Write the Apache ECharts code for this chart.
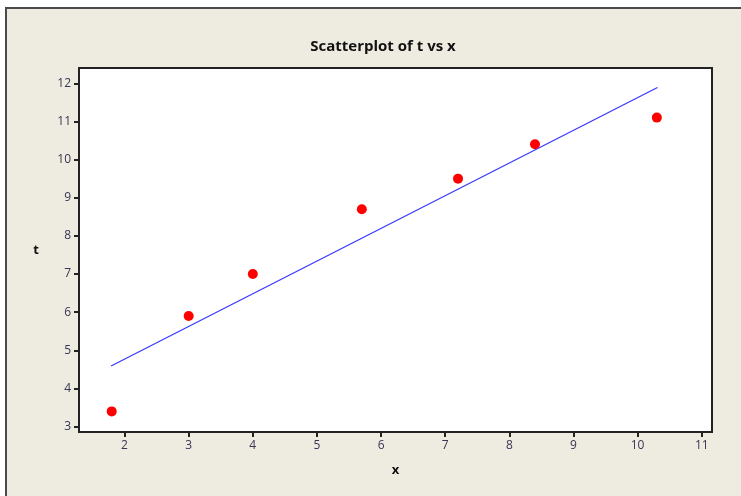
<!DOCTYPE html>
<html>
<head>
<meta charset="utf-8">
<script src="https://cdn.jsdelivr.net/npm/echarts@6/dist/echarts.min.js"></script>
<style>
  html, body { margin: 0; padding: 0; background: #ffffff; }
  #chart { width: 741px; height: 496px; }
</style>
</head>
<body>
<div id="chart"></div>
<script>
const xValues = [1.8, 3, 4, 5.7, 7.2, 8.4, 10.3];
const tValues = [3.4, 5.9, 7.0, 8.7, 9.5, 10.4, 11.1];
// fitted line
const fitX = [1.79, 10.31];
const fitT = [4.59, 11.89];
const xTicks = [2, 3, 4, 5, 6, 7, 8, 9, 10, 11];
const tTicks = [3, 4, 5, 6, 7, 8, 9, 10, 11, 12];

const chart = echarts.init(document.getElementById("chart"));
const labelFont = { fontFamily: "Open Sans", fontSize: 12, color: "#3a3550" };

chart.setOption({
  animation: false,
  backgroundColor: "#ffffff",
  graphic: [
    {
      type: "rect",
      shape: { x: 6, y: 8, width: 800, height: 600 },
      style: { fill: "#eeebe1", stroke: "#4a4a4a", lineWidth: 2 },
      z: -10,
    },
  ],
  title: {
    text: "Scatterplot of t vs x",
    left: 378,
    top: 34,
    textAlign: "center",
    textStyle: { fontFamily: "Open Sans", fontSize: 15, fontWeight: "bold", color: "#111" },
  },
  grid: {
    left: 79,
    top: 68,
    right: 29,
    bottom: 64,
    show: true,
    backgroundColor: "#ffffff",
    borderColor: "#222",
    borderWidth: 2,
  },
  xAxis: {
    type: "value",
    min: 1.29,
    max: 11.16,
    name: "x",
    nameLocation: "middle",
    nameGap: 32,
    nameTextStyle: { fontFamily: "Open Sans", fontSize: 13, fontWeight: "bold", color: "#111" },
    axisLine: { show: false },
    axisTick: { show: true, length: 5, lineStyle: { color: "#222", width: 2 }, customValues: xTicks },
    axisLabel: { ...labelFont, margin: 8, customValues: xTicks },
    splitLine: { show: false },
  },
  yAxis: {
    type: "value",
    min: 2.86,
    max: 12.4,
    name: "t",
    nameLocation: "middle",
    nameGap: 40,
    nameRotate: 0,
    nameTextStyle: { fontFamily: "Open Sans", fontSize: 13, fontWeight: "bold", color: "#111" },
    axisLine: { show: false },
    axisTick: { show: true, length: 5, lineStyle: { color: "#222", width: 2 }, customValues: tTicks },
    axisLabel: { ...labelFont, margin: 8, customValues: tTicks },
    splitLine: { show: false },
  },
  series: [
    {
      name: "fit",
      type: "line",
      data: fitX.map((x, i) => [x, fitT[i]]),
      showSymbol: false,
      lineStyle: { color: "#3a3aff", width: 1.3 },
      z: 2,
    },
    {
      name: "t",
      type: "scatter",
      data: xValues.map((x, i) => [x, tValues[i]]),
      symbolSize: 10,
      itemStyle: { color: "#ff0000", opacity: 1 },
      z: 3,
    },
  ],
});
</script>
</body>
</html>
